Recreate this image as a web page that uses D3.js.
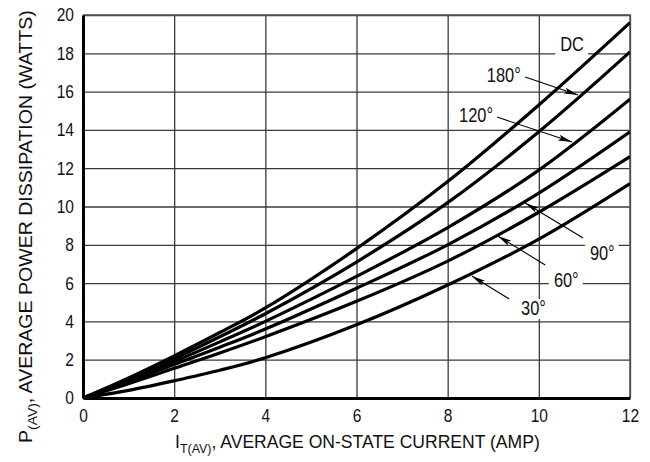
<!DOCTYPE html>
<html>
<head>
<meta charset="utf-8">
<script src="https://cdn.jsdelivr.net/npm/d3@7"></script>
<style>
    body { margin: 0; background: #fff; }
    svg text { font-family: "Liberation Sans", Arial, Helvetica, sans-serif; fill: #111; }
</style>
</head>
<body>
<div id="power-chart"></div>
<script>

// values (amps -> watts)
var currents = [0, 1, 2, 3, 4, 6, 8, 10, 12];
var dcWatts = [0, 1.05, 2.2, 3.42, 4.7, 7.8, 11.3, 15.3, 19.6];
var deg180Watts = [0, 1.0, 2.05, 3.2, 4.4, 7.1, 10.2, 13.9, 18.07];
var deg120Watts = [0, 0.92, 1.9, 2.93, 4.0, 6.35, 8.9, 11.9, 15.6];
var deg90Watts = [0, 0.85, 1.75, 2.65, 3.6, 5.73, 8.0, 10.7, 13.9];
var deg60Watts = [0, 0.75, 1.55, 2.35, 3.2, 5.05, 7.15, 9.7, 12.6];
var deg30Watts = [0, 0.4, 0.9, 1.45, 2.1, 3.82, 5.9, 8.3, 11.2];

var xTicks = [0, 2, 4, 6, 8, 10, 12];
var yTicks = [0, 2, 4, 6, 8, 10, 12, 14, 16, 18, 20];

// curve labels: text anchor point and arrow (from -> to), all in data units
var labelNames = ["DC", "180°", "120°", "90°", "60°", "30°"];
var labelAt = [[10.47, 18.1], [8.86, 16.5], [8.25, 14.41], [11.12, 7.2], [10.33, 5.8], [9.61, 4.33]];
var arrowFrom = [null, [9.70, 16.76], [9.08, 14.67], [10.97, 8.36], [10.14, 6.95], [9.35, 5.17]];
var arrowTo = [null, [10.86, 15.82], [10.73, 13.37], [9.70, 10.18], [9.10, 8.46], [8.53, 6.37]];


// the original lettering is a condensed grotesque, squeeze plain text to fit
function squeeze(sel, k) {
    sel.each(function() {
        var w = this.getComputedTextLength();
        d3.select(this).attr("textLength", w * k).attr("lengthAdjust", "spacingAndGlyphs");
    });
}

PowerChart = function(_parentElement) {
    this.parentElement = _parentElement;
    this.width = 650;
    this.height = 462;
    this.margin = { top: 15, right: 20, bottom: 64, left: 83 };
    this.initVis();
}

PowerChart.prototype.initVis = function() {
    var vis = this;

    vis.innerW = vis.width - vis.margin.left - vis.margin.right;
    vis.innerH = vis.height - vis.margin.top - vis.margin.bottom;

    vis.svg = d3.select(vis.parentElement)
        .append("svg")
        .attr("width", vis.width)
        .attr("height", vis.height);

    vis.g = vis.svg.append("g")
        .attr("transform", "translate(" + vis.margin.left + "," + vis.margin.top + ")");

    vis.x = d3.scaleLinear().domain([0, 12]).range([0, vis.innerW]);
    vis.y = d3.scaleLinear().domain([0, 20]).range([vis.innerH, 0]);

    vis.series = [dcWatts, deg180Watts, deg120Watts, deg90Watts, deg60Watts, deg30Watts];

    vis.updateVis();
}

PowerChart.prototype.updateVis = function() {
    var vis = this;

    // grid
    var xGrid = d3.axisBottom(vis.x).tickValues(xTicks).tickSize(-vis.innerH).tickFormat("");
    vis.g.append("g")
        .attr("class", "grid")
        .attr("transform", "translate(0," + vis.innerH + ")")
        .call(xGrid);

    var yGrid = d3.axisLeft(vis.y).tickValues(yTicks).tickSize(-vis.innerW).tickFormat("");
    vis.g.append("g")
        .attr("class", "grid")
        .call(yGrid);

    vis.g.selectAll(".grid .domain").remove();
    vis.g.selectAll(".grid line")
        .attr("stroke", "#3a3a3a")
        .attr("stroke-width", 1.3);

    // top/right frame
    vis.g.append("path")
        .attr("d", "M0,0H" + vis.innerW + "V" + vis.innerH)
        .attr("fill", "none")
        .attr("stroke", "#555")
        .attr("stroke-width", 1.6);

    // curves
    var line = d3.line()
        .x(function(d) { return vis.x(d[0]); })
        .y(function(d) { return vis.y(d[1]); })
        .curve(d3.curveCatmullRom.alpha(0.5));

    vis.g.append("clipPath").attr("id", "plot-clip")
        .append("rect").attr("width", vis.innerW).attr("height", vis.innerH);

    vis.g.append("g")
        .attr("clip-path", "url(#plot-clip)")
        .selectAll("path")
        .data(vis.series)
        .enter()
        .append("path")
        .attr("d", function(s) { return line(currents.map(function(c, i) { return [c, s[i]]; })); })
        .attr("fill", "none")
        .attr("stroke", "#000")
        .attr("stroke-width", 3.2);

    // axes (thick left and bottom)
    var xAxis = d3.axisBottom(vis.x).tickValues(xTicks).tickSize(0).tickPadding(11);
    var xg = vis.g.append("g")
        .attr("transform", "translate(0," + vis.innerH + ")")
        .call(xAxis);
    xg.select(".domain").attr("stroke", "#000").attr("stroke-width", 3);
    xg.selectAll("text").style("font-size", "18.5px").attr("fill", "#111").call(squeeze, 0.84);

    var yAxis = d3.axisLeft(vis.y).tickValues(yTicks).tickSize(0).tickPadding(9);
    var yg = vis.g.append("g").call(yAxis);
    yg.select(".domain").attr("stroke", "#000").attr("stroke-width", 3);
    yg.selectAll("text").style("font-size", "18.5px").attr("fill", "#111").call(squeeze, 0.84);

    // curve labels with white boxes behind them
    var marker = vis.svg.append("defs").append("marker")
        .attr("id", "arrowhead")
        .attr("markerUnits", "userSpaceOnUse")
        .attr("viewBox", "0 0 14 6")
        .attr("refX", 14).attr("refY", 3)
        .attr("markerWidth", 14).attr("markerHeight", 6)
        .attr("orient", "auto");
    marker.append("path").attr("d", "M0,0L14,3L0,6L3,3Z").attr("fill", "#000");

    labelNames.forEach(function(name, i) {
        if (arrowFrom[i]) {
            vis.g.append("line")
                .attr("x1", vis.x(arrowFrom[i][0])).attr("y1", vis.y(arrowFrom[i][1]))
                .attr("x2", vis.x(arrowTo[i][0])).attr("y2", vis.y(arrowTo[i][1]))
                .attr("stroke", "#000")
                .attr("stroke-width", 1.1)
                .attr("marker-end", "url(#arrowhead)");
        }
        var t = vis.g.append("text")
            .attr("x", vis.x(labelAt[i][0]))
            .attr("y", vis.y(labelAt[i][1]))
            .style("font-size", "20px")
            .text(name)
            .call(squeeze, 0.82);
        var bb = t.node().getBBox();
        vis.g.insert("rect", function() { return t.node(); })
            .attr("x", bb.x - 5).attr("y", bb.y + 2)
            .attr("width", bb.width + 9).attr("height", bb.height - 2)
            .attr("fill", "#fff");
    });

    // axis titles, squeezed to the reference length
    var xt = vis.svg.append("g").append("text").style("font-size", "19px");
    xt.append("tspan").text("I");
    xt.append("tspan").attr("dy", 5).style("font-size", "13.5px").text("T(AV)");
    xt.append("tspan").attr("dy", -5).text(", AVERAGE ON-STATE CURRENT (AMP)");
    var xw = xt.node().getBBox().width;
    d3.select(xt.node().parentNode)
        .attr("transform", "translate(175,448) scale(" + (365 / xw) + ",1)");

    var yt = vis.svg.append("g").append("text").style("font-size", "19px");
    yt.append("tspan").text("P");
    yt.append("tspan").attr("dy", 5).style("font-size", "13.5px").text("(AV)");
    yt.append("tspan").attr("dy", -5).text(", AVERAGE POWER DISSIPATION (WATTS)");
    var yw = yt.node().getBBox().width;
    d3.select(yt.node().parentNode)
        .attr("transform", "translate(32,443) rotate(-90) scale(" + (433 / yw) + ",1)");
}

new PowerChart("#power-chart");

</script>
</body>
</html>
